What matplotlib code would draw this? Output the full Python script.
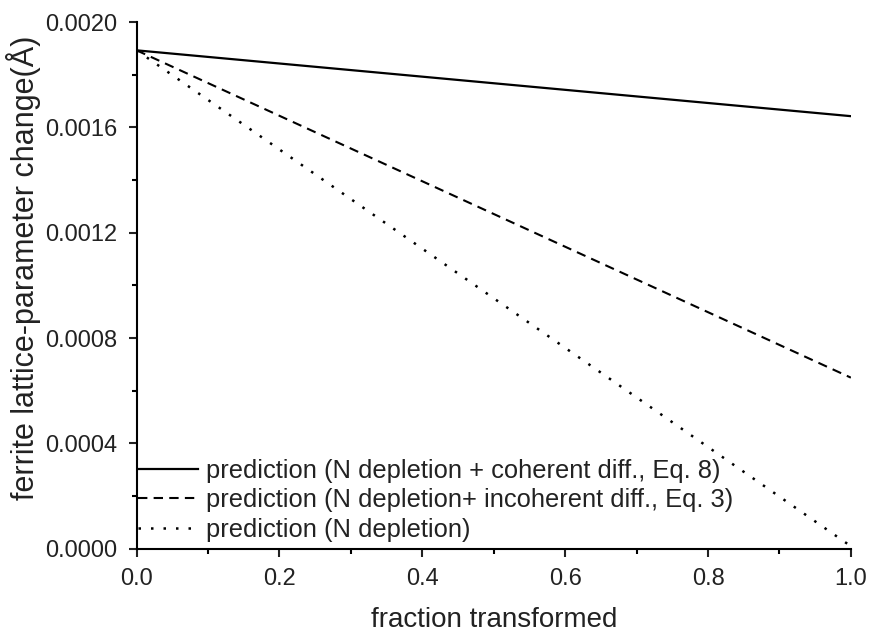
import matplotlib.pyplot as plt
import numpy as np

plt.rcParams['font.family'] = ['Liberation Sans', 'DejaVu Sans']

# fraction transformed (end points of the straight predictions)
frac = [0.0, 1.0]
coherent = [0.001893, 0.001643]    # N depletion + coherent diff., Eq. 8
incoherent = [0.001893, 0.000650]  # N depletion + incoherent diff., Eq. 3
depletion = [0.001893, 0.000010]   # N depletion only

labels = ["prediction (N depletion + coherent diff., Eq. 8)",
          "prediction (N depletion+ incoherent diff., Eq. 3)",
          "prediction (N depletion)"]

fig = plt.figure(figsize=(8.7, 6.33), dpi=100)
ax = fig.add_axes([0.157, 0.133, 0.821, 0.832])

ax.plot(frac, coherent, '-', color='black', lw=1.6, label=labels[0])
ax.plot(frac, incoherent, color='black', lw=1.5, linestyle=(0, (4.5, 3)), label=labels[1])
ax.plot(frac, depletion, color='black', lw=1.8, linestyle=(0, (1, 4)), label=labels[2])

ax.set_xlim(0, 1.0)
ax.set_ylim(0, 0.002)
ax.set_xticks(np.arange(0, 1.01, 0.2))
ax.set_xticks(np.arange(0.1, 1.0, 0.2), minor=True)
ax.set_yticks(np.arange(0, 0.00201, 0.0004))
ax.set_yticks(np.arange(0.0002, 0.002, 0.0004), minor=True)
ax.set_xticklabels(["%.1f" % v for v in np.arange(0, 1.01, 0.2)])
ax.set_yticklabels(["%.4f" % v for v in np.arange(0, 0.00201, 0.0004)])

for s in ['top', 'right']:
    ax.spines[s].set_visible(False)
for s in ['left', 'bottom']:
    ax.spines[s].set_linewidth(1.5)
ax.tick_params(which='major', length=6, width=1.5, labelsize=17, direction='out',
               pad=8, colors='#222222')
ax.tick_params(which='minor', length=3.5, width=1.5, direction='out')

ax.set_xlabel('fraction transformed', fontsize=20, labelpad=12, color='#222222')
ax.set_ylabel('ferrite lattice-parameter change(Å)', fontsize=22, color='#222222')
ax.yaxis.set_label_coords(-0.134, 0.533)

leg = ax.legend(loc='lower left', frameon=False, fontsize=18.4, handlelength=2.35,
                handletextpad=0.3, labelspacing=0.22, borderaxespad=0.1,
                bbox_to_anchor=(-0.016, -0.011))
for t in leg.get_texts():
    t.set_color('#222222')

plt.savefig("out.png", dpi=100)
